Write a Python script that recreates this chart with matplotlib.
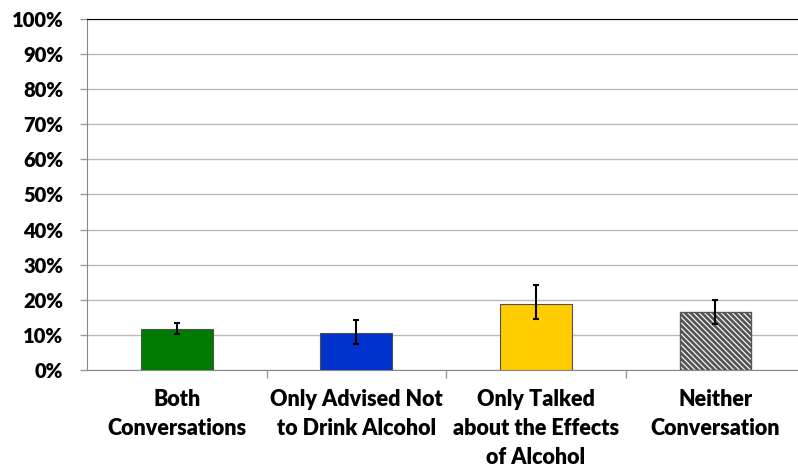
import matplotlib
matplotlib.use("Agg")
import matplotlib.pyplot as plt
import numpy as np

categories = ["Both\nConversations", "Only Advised Not\nto Drink Alcohol",
              "Only Talked\nabout the Effects\nof Alcohol", "Neither\nConversation"]
values = [11.8, 10.6, 18.9, 16.4]
err_low = [10.3, 7.5, 14.5, 13.2]
err_high = [13.3, 14.2, 24.2, 19.9]
colors = ["#007A00", "#0033CC", "#FFCC00", "white"]
yticks = list(range(0, 101, 10))
ytick_labels = [f"{t}%" for t in yticks]

plt.rcParams['font.family'] = ['Lato', 'DejaVu Sans']
plt.rcParams['hatch.linewidth'] = 2.0
plt.rcParams['hatch.color'] = "#606060"
FS = 14.5
fig = plt.figure(figsize=(7.98, 4.65), dpi=100)
ax = fig.add_axes([87/798, 1 - 370/465, 1 - 87/798, (370 - 19)/465])

x = np.arange(len(categories))
for i in range(len(categories)):
    if i == 3:
        ax.bar(x[i], values[i], width=0.4, color="white", edgecolor="#555555",
               hatch="\\" * 6, linewidth=1, zorder=3)
    else:
        ax.bar(x[i], values[i], width=0.4, color=colors[i], edgecolor="#505050",
               linewidth=0.8, zorder=3)
lo = np.array(values) - np.array(err_low)
hi = np.array(err_high) - np.array(values)
ax.errorbar(x, values, yerr=[lo, hi], fmt="none", ecolor="black", elinewidth=1.5,
            capsize=2.5, capthick=1.5, zorder=4)

ax.set_ylim(0, 100)
ax.set_xlim(-0.5, 3.46)
ax.set_yticks(yticks)
ax.set_yticklabels(ytick_labels, fontsize=FS, fontweight="heavy")
ax.yaxis.grid(True, color="#BBBBBB", linewidth=1, zorder=0)
ax.set_axisbelow(True)
ax.set_xticks([0.5, 1.5, 2.5])
ax.set_xticklabels([])
ax.tick_params(axis="x", length=6, color="#999999", width=1)
ax.tick_params(axis="y", length=5, color="#999999", width=1, pad=12)
for i, c in enumerate(categories):
    ax.annotate(c, xy=(x[i], 0), xycoords=("data", "axes fraction"),
                xytext=(0, -14), textcoords="offset points",
                ha="center", va="top", fontsize=15.5, fontweight="heavy",
                linespacing=1.45, annotation_clip=False)
ax.spines["right"].set_visible(False)
ax.spines["left"].set_color("#888888")
ax.spines["bottom"].set_color("#888888")
ax.spines["top"].set_color("black")

fig.savefig("out.png", dpi=100)
